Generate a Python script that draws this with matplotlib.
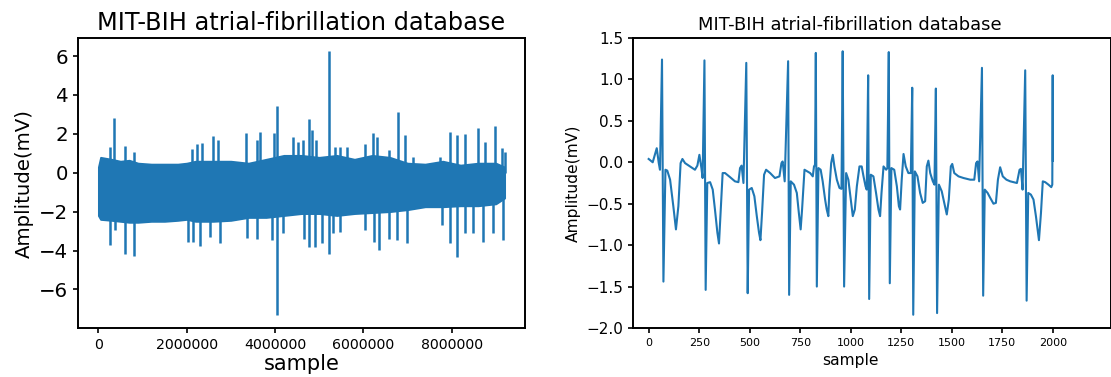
import matplotlib
matplotlib.use("Agg")
import matplotlib.pyplot as plt

# ---------------- Left chart: whole record (envelope, in millions of samples)
band_x = [0.0, 0.05, 0.3, 0.5, 0.7, 0.9, 1.2, 1.5, 1.8, 2.0, 2.2, 2.6, 3.0, 3.4,
          3.8, 4.2, 4.6, 5.0, 5.4, 5.8, 6.2, 6.6, 7.0, 7.4, 7.8, 8.2, 8.6, 9.0, 9.2]
band_hi = [0.3, 0.8, 0.7, 0.6, 0.65, 0.5, 0.45, 0.45, 0.45, 0.5, 0.6, 0.6, 0.6, 0.5,
           0.7, 0.9, 0.9, 0.8, 0.9, 0.7, 0.9, 0.8, 0.5, 0.45, 0.6, 0.4, 0.5, 0.5, 0.3]
band_lo = [-2.2, -2.4, -2.45, -2.5, -2.55, -2.55, -2.5, -2.5, -2.45, -2.4, -2.5, -2.5, -2.45, -2.3,
           -2.3, -2.2, -2.1, -2.1, -2.2, -2.1, -2.05, -2.0, -1.9, -1.75, -1.75, -1.7, -1.7, -1.6, -1.3]

up_x = [0.27, 0.35, 0.61, 0.80, 2.12, 2.23, 2.35, 2.59, 2.72, 3.34, 3.59, 3.65, 3.97, 4.04,
        4.40, 4.53, 4.63, 4.76, 4.83, 4.93, 5.23, 5.36, 5.47, 5.63, 6.04, 6.23, 6.30, 6.57,
        6.79, 6.95, 7.13, 7.74, 7.96, 8.11, 8.30, 8.60, 8.76, 8.97, 9.13, 9.21]
up_y = [1.34, 2.83, 1.37, 1.06, 1.2, 1.5, 1.54, 1.89, 1.68, 2.06, 1.68, 2.09, 2.02, 3.43,
        1.85, 1.59, 1.68, 2.74, 2.19, 1.68, 6.27, 1.34, 1.34, 1.34, 1.5, 2.06, 1.85, 1.17,
        3.14, 1.95, 0.82, 0.82, 2.1, 1.94, 1.99, 2.28, 1.59, 2.4, 1.3, 1.08]

dn_x = [0.27, 0.38, 0.61, 0.80, 2.04, 2.14, 2.31, 2.53, 2.76, 3.36, 3.59, 3.93, 4.04, 4.19,
        4.65, 4.76, 4.91, 5.06, 5.23, 5.32, 5.47, 6.04, 6.24, 6.36, 6.57, 6.76, 6.98, 7.77,
        7.96, 8.11, 8.30, 8.49, 8.71, 8.94, 9.17]
dn_y = [-3.72, -2.95, -4.15, -4.29, -3.58, -3.58, -3.77, -3.29, -3.63, -3.34, -3.38, -3.46, -7.32, -3.12,
        -3.38, -3.84, -3.84, -3.6, -4.15, -3.12, -3.03, -2.95, -3.55, -3.98, -3.38, -3.46, -3.6, -2.69,
        -3.6, -4.35, -3.12, -3.12, -3.58, -3.12, -3.46]

# ---------------- Right chart: first 2000 samples (key points)
seg_x = [0, 10, 20, 40, 50, 56, 66, 73, 83, 92, 106, 122, 135, 147, 158, 167, 180, 205, 229, 241,
         251, 261, 267, 276, 282, 290, 304, 317, 328, 340, 348, 356, 366, 378, 403, 427, 444, 452,
         460, 469, 483, 490, 497, 510, 523, 535, 546, 553, 561, 571, 581, 601, 625, 647, 657, 663,
         673, 690, 695, 703, 719, 733, 743, 752, 759, 771, 785, 799, 812, 818, 823, 827, 832, 840,
         851, 861, 873, 881, 889, 894, 903, 911, 919, 931, 944, 954, 960, 967, 977, 988, 1000, 1010,
         1020, 1030, 1043, 1054, 1063, 1073, 1079, 1086, 1091, 1099, 1112, 1125, 1137, 1145, 1152,
         1162, 1175, 1181, 1188, 1193, 1201, 1215, 1228, 1238, 1244, 1252, 1261, 1272, 1285, 1297,
         1304, 1309, 1317, 1330, 1343, 1356, 1368, 1376, 1384, 1393, 1406, 1414, 1421, 1427, 1436,
         1450, 1464, 1475, 1485, 1495, 1502, 1512, 1533, 1558, 1591, 1611, 1620, 1627, 1635, 1649,
         1655, 1663, 1677, 1690, 1706, 1718, 1728, 1739, 1752, 1770, 1789, 1822, 1835, 1842, 1850,
         1863, 1870, 1878, 1891, 1904, 1916, 1926, 1931, 1941, 1950, 1962, 1978, 1992, 1997, 1999, 2000]
seg_y = [0.04, 0.02, 0.0, 0.17, -0.01, -0.09, 1.24, -1.44, -0.09, -0.1, -0.21, -0.53, -0.81, -0.53,
         -0.01, 0.04, -0.01, -0.05, -0.09, -0.04, 0.09, -0.07, -0.19, 1.23, -1.54, -0.25, -0.24,
         -0.33, -0.57, -0.85, -0.98, -0.61, -0.13, -0.13, -0.18, -0.23, -0.24, -0.07, -0.04, -0.25,
         1.20, -1.58, -0.33, -0.31, -0.41, -0.65, -0.85, -0.94, -0.61, -0.15, -0.09, -0.13, -0.19,
         -0.17, -0.01, 0.01, -0.23, 1.22, -1.60, -0.23, -0.27, -0.37, -0.61, -0.81, -0.57, -0.09,
         -0.11, -0.13, -0.17, -0.05, -0.03, 1.32, -1.50, -0.07, -0.09, -0.23, -0.45, -0.57, -0.65,
         -0.33, -0.01, 0.09, -0.05, -0.21, -0.31, -0.32, 1.34, -1.50, -0.13, -0.21, -0.45, -0.65,
         -0.57, -0.29, -0.05, -0.05, -0.17, -0.29, -0.33, 1.05, -1.65, -0.15, -0.17, -0.37, -0.57,
         -0.65, -0.37, -0.05, -0.09, -0.07, 1.33, -1.46, -0.07, -0.09, -0.29, -0.53, -0.57, -0.21,
         0.10, -0.05, -0.13, -0.13, 0.90, -1.84, -0.11, -0.17, -0.37, -0.49, -0.47, -0.05, 0.02,
         -0.13, -0.23, -0.27, 0.89, -1.82, -0.27, -0.35, -0.51, -0.63, -0.45, -0.05, -0.02, -0.13,
         -0.17, -0.19, -0.21, -0.21, -0.01, 0.01, -0.23, 1.14, -1.61, -0.33, -0.37, -0.43, -0.50,
         -0.49, -0.21, -0.06, -0.17, -0.21, -0.23, -0.25, -0.09, -0.08, -0.33, 1.11, -1.67, -0.37,
         -0.39, -0.45, -0.65, -0.85, -0.94, -0.61, -0.23, -0.24, -0.27, -0.30, -0.27, 1.05, 0.02]

title = "MIT-BIH atrial-fibrillation database"
color = "#1f77b4"

fig = plt.figure(figsize=(11.11, 3.77), dpi=100)

# ---- left
ax1 = fig.add_axes([78 / 1111, 49 / 377, 447 / 1111, 290 / 377])
ax1.fill_between([v * 1e6 for v in band_x], band_lo, band_hi, color=color, linewidth=1.2)
ax1.vlines([v * 1e6 for v in up_x], 0, up_y, color=color, linewidth=1.8)
ax1.vlines([v * 1e6 for v in dn_x], -1, dn_y, color=color, linewidth=1.8)
ax1.set_xlim(-0.46e6, 9.66e6)
ax1.set_ylim(-7.98, 6.93)
ax1.set_xticks([0, 2000000, 4000000, 6000000, 8000000])
ax1.set_xticklabels(["0", "2000000", "4000000", "6000000", "8000000"], fontsize=10.2)
ax1.set_yticks([-6, -4, -2, 0, 2, 4, 6])
ax1.tick_params(axis="y", labelsize=14.2)
ax1.set_title(title, fontsize=17.3)
ax1.set_xlabel("sample", fontsize=15, labelpad=2)
ax1.set_ylabel("Amplitude(mV)", fontsize=14.2)
for s in ax1.spines.values():
    s.set_linewidth(1.4)
ax1.tick_params(width=1.2)

# ---- right
ax2 = fig.add_axes([633 / 1111, 49 / 377, 477.5 / 1111, 290 / 377])
ax2.plot(seg_x, seg_y, color=color, linewidth=1.5)
ax2.set_xlim(-77.5, 2285)
ax2.set_ylim(-2.0, 1.5)
ax2.set_xticks([0, 250, 500, 750, 1000, 1250, 1500, 1750, 2000])
ax2.tick_params(axis="x", labelsize=8)
ax2.tick_params(axis="y", labelsize=11)
t2 = ax2.set_title(title, fontsize=12.9)
t2.set_x((850 - 633) / 477.5)
ax2.set_xlabel("sample", fontsize=11.2)
ax2.xaxis.set_label_coords((850 - 633) / 477.5, -0.085)
ax2.xaxis.label.set_va("top")
ax2.set_ylabel("Amplitude(mV)", fontsize=11.2)
for s in ax2.spines.values():
    s.set_linewidth(1.4)
ax2.tick_params(width=1.2)

fig.savefig("out.png", dpi=100)
